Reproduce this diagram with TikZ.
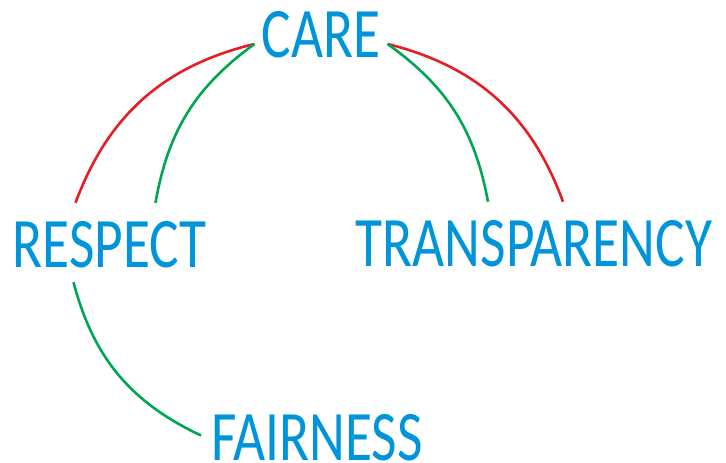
\documentclass[tikz,border=0pt]{standalone}
\usepackage{fontspec}
\newfontfamily\wordfont[FakeStretch=0.78]{Carlito}
\usetikzlibrary{positioning}
\definecolor{valueblue}{RGB}{0,149,218}
\definecolor{linkred}{RGB}{227,30,36}
\definecolor{linkgreen}{RGB}{0,166,81}

\begin{document}
\begin{tikzpicture}[
  x=1pt,y=1pt,
  every node/.style={font=\wordfont\fontsize{71}{71}\selectfont,text=valueblue,
    inner xsep=7pt,inner ysep=0pt,text height=45pt,text depth=17pt},
  red link/.style={draw=linkred,line width=2.6pt},
  green link/.style={draw=linkgreen,line width=2.6pt},
  ]
  \useasboundingbox (0,0) rectangle (726,463);
  \node (care) at (321,419) {CARE};
  \node (respect) at (109.5,209) {RESPECT};
  \node (transparency) at (534,210) {TRANSPARENCY};
  \node[text depth=0pt] (fairness) at (317,24.5) {FAIRNESS};
  \draw[red link] (care.west) to[bend right=28] ([shift={(-34pt,20pt)}]respect.north);
  \draw[green link] (care.west) to[bend right=22] ([shift={(46pt,20pt)}]respect.north);
  \draw[red link] (care.east) to[bend left=28] ([shift={(29pt,20pt)}]transparency.north);
  \draw[green link] (care.east) to[bend left=22] ([shift={(-46pt,20pt)}]transparency.north);
  \draw[green link] ([shift={(-36pt,3pt)}]respect.south) to[bend right=25] ([shift={(-3pt,3pt)}]fairness.west);
\end{tikzpicture}
\end{document}
